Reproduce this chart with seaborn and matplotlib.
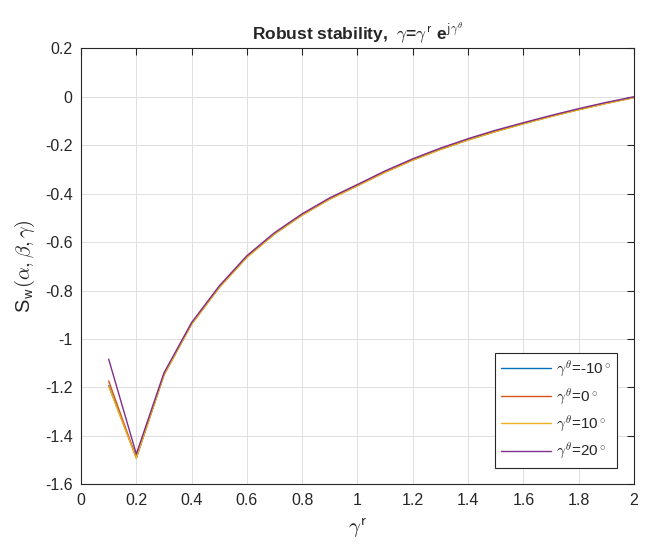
import matplotlib
matplotlib.use("Agg")
import matplotlib.pyplot as plt
import numpy as np
import pandas as pd
import seaborn as sns

# gamma^r sample points
gamma_r = [0.1, 0.2, 0.3, 0.4, 0.5, 0.6, 0.7, 0.8, 0.9, 1.0,
           1.1, 1.2, 1.3, 1.4, 1.5, 1.6, 1.7, 1.8, 1.9, 2.0]

# S_w values, one list per gamma^theta
s_m10 = [-1.192, -1.490, -1.148, -0.938, -0.787, -0.662, -0.566, -0.488, -0.422, -0.367,
         -0.311, -0.261, -0.217, -0.178, -0.143, -0.111, -0.081, -0.053, -0.027, -0.003]
s_0 = [-1.173, -1.490, -1.147, -0.937, -0.786, -0.661, -0.565, -0.487, -0.421, -0.366,
       -0.310, -0.260, -0.216, -0.177, -0.142, -0.110, -0.080, -0.052, -0.026, -0.002]
s_10 = [-1.195, -1.492, -1.149, -0.939, -0.788, -0.663, -0.567, -0.489, -0.423, -0.368,
        -0.312, -0.262, -0.218, -0.179, -0.144, -0.112, -0.082, -0.054, -0.028, -0.004]
s_20 = [-1.083, -1.475, -1.140, -0.932, -0.781, -0.656, -0.561, -0.483, -0.417, -0.362,
        -0.306, -0.256, -0.212, -0.173, -0.138, -0.107, -0.077, -0.049, -0.023, 0.000]

labels = [r"$\gamma^\theta$=-10$^\circ$", r"$\gamma^\theta$=0$^\circ$",
          r"$\gamma^\theta$=10$^\circ$", r"$\gamma^\theta$=20$^\circ$"]
colors = ["#0072BD", "#D95319", "#EDB120", "#7E2F8E"]

x_ticks = [0, 0.2, 0.4, 0.6, 0.8, 1, 1.2, 1.4, 1.6, 1.8, 2]
x_ticklabels = ["0", "0.2", "0.4", "0.6", "0.8", "1", "1.2", "1.4", "1.6", "1.8", "2"]
y_ticks = [0.2, 0, -0.2, -0.4, -0.6, -0.8, -1, -1.2, -1.4, -1.6]
y_ticklabels = ["0.2", "0", "-0.2", "-0.4", "-0.6", "-0.8", "-1", "-1.2", "-1.4", "-1.6"]

# long-form table for seaborn
frames = []
for lab, vals in zip(labels, [s_m10, s_0, s_10, s_20]):
    frames.append(pd.DataFrame({"gamma_r": gamma_r, "S": vals, "theta": lab}))
df = pd.concat(frames, ignore_index=True)

sns.set_theme(style="whitegrid")
plt.rcParams["font.family"] = ["Liberation Sans", "DejaVu Sans"]
plt.rcParams["mathtext.fontset"] = "cm"
plt.rcParams["axes.edgecolor"] = "#262626"
plt.rcParams["grid.color"] = "#e0e0e0"

fig = plt.figure(figsize=(6.46, 5.48), dpi=100)
ax = fig.add_axes([0.1254, 0.1162, 0.856, 0.7956])

sns.lineplot(
    data=df,
    x="gamma_r",
    y="S",
    hue="theta",
    palette=colors,
    linewidth=1.0,
    ax=ax
)

ax.set_xlim(0, 2)
ax.set_ylim(-1.6, 0.2)
ax.set_xticks(x_ticks)
ax.set_xticklabels(x_ticklabels)
ax.set_yticks(y_ticks)
ax.set_yticklabels(y_ticklabels)
ax.tick_params(direction="in", length=5, width=0.8, colors="#262626",
               labelsize=11.5, top=True, right=True, pad=6)
ax.grid(True, linewidth=0.7)
for sp in ax.spines.values():
    sp.set_linewidth(0.8)
    sp.set_color("#262626")

ax.set_title("Robust stability,  " + r"$\gamma$=$\gamma^\mathsf{r}$" + " e" + r"$^{\mathsf{j}\gamma^\theta}$",
             fontsize=12.5, fontweight="bold", pad=7)
ax.set_xlabel(r"$\gamma^{\mathsf{r}}$", fontsize=15, labelpad=6)
ax.set_ylabel(r"S$_\mathsf{w}$$(\alpha,\beta,\gamma)$", fontsize=14.5, labelpad=6)

leg = ax.legend(loc="lower right", fontsize=11, frameon=True, fancybox=False,
                edgecolor="#262626", framealpha=1, handlelength=3.3,
                borderaxespad=1.1, labelspacing=0.45, handletextpad=0.3,
                borderpad=0.4)
leg.get_frame().set_linewidth(0.8)

fig.savefig("out.png", dpi=100)
